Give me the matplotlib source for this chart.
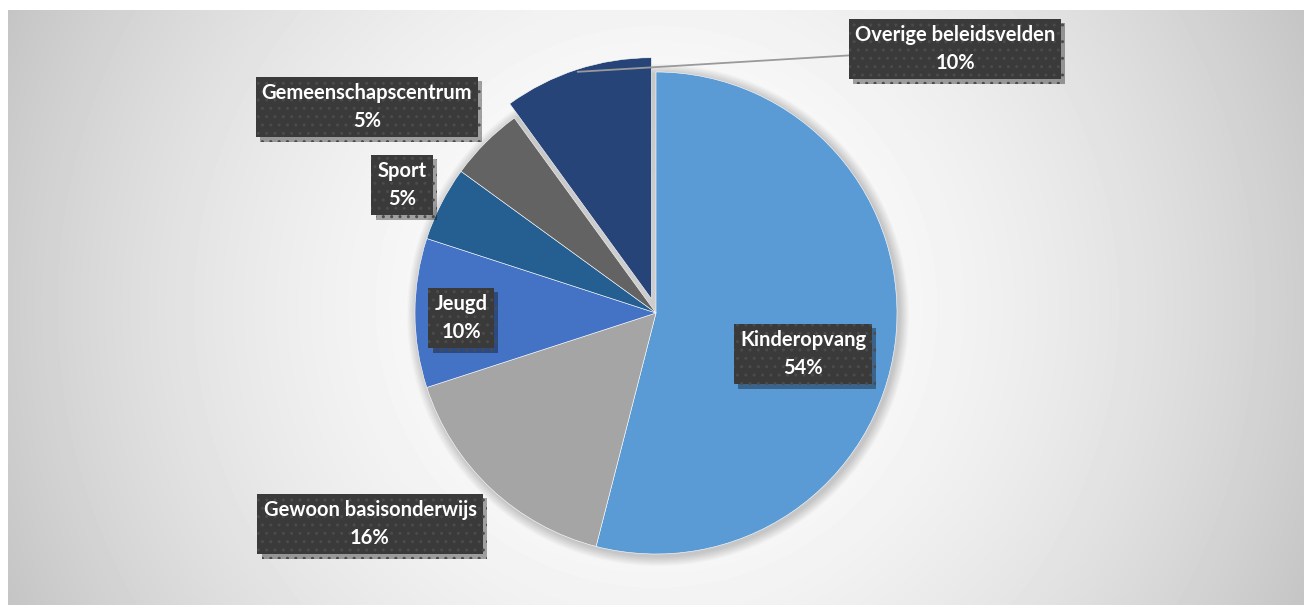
import numpy as np
import matplotlib
matplotlib.use("Agg")
import matplotlib.pyplot as plt
import matplotlib.patheffects as pe
from matplotlib.patches import Circle

# gegevens
categorieen = ["Kinderopvang", "Gewoon basisonderwijs", "Jeugd", "Sport",
               "Gemeenschapscentrum", "Overige beleidsvelden"]
aandeel = [54, 16, 10, 5, 5, 10]
kleuren = ["#5B9BD5", "#A5A5A5", "#4472C4", "#255E91", "#636363", "#264478"]

# opmaak
uitgelicht = [0, 0, 0, 0, 0, 15]
# middelpunt van de labels in pixels (y van boven)
label_pos = [(803, 354), (370, 524), (461, 318), (402, 185), (367, 107), (955, 49)]

W, H = 1304, 609
plt.rcParams['hatch.color'] = '#4b4b4b'
plt.rcParams['hatch.linewidth'] = 1.0

fig = plt.figure(figsize=(W / 100, H / 100), dpi=100)
ax = fig.add_axes([0, 0, 1, 1])

# achtergrond met radiaal verloop
x0, x1, y0, y1 = 8, W, 4, H - 10
xs = np.arange(x0, x1)
ys = np.arange(y0, y1)
gx, gy = np.meshgrid(xs, ys)
cx, cy = (x0 + x1) / 2, (y0 + y1) / 2
d = np.hypot(gx - cx, gy - cy) / np.hypot(x1 - cx, y1 - cy)
grijs = 1 - 0.23 * d ** 1.8
ax.imshow(grijs, extent=(x0, x1, y0, y1), origin='lower', cmap='gray',
          vmin=0, vmax=1, zorder=0, aspect='auto')

middel = (656, 296)
straal = 241

# zachte schaduw rond de taart
for i in range(10):
    ax.add_patch(Circle((middel[0] + 2, middel[1] - 2), straal + 10 - i,
                        fc='black', ec='none', alpha=0.018, zorder=1))

wedges, _ = ax.pie(aandeel, colors=kleuren, startangle=90, counterclock=False,
                   radius=straal, center=middel, explode=uitgelicht,
                   wedgeprops=dict(edgecolor='white', linewidth=0.4))
for w in wedges:
    w.set_zorder(2)

for w, cat, p, (lx, ly) in zip(wedges, categorieen, aandeel, label_pos):
    tekst = f"{cat}\n{p}%"
    kwargs = dict(ha='center', va='center', multialignment='center',
                  fontsize=14.5, fontweight='bold', color='white', family='Lato',
                  linespacing=1.55, zorder=5,
                  bbox=dict(boxstyle='square,pad=0.3', fc='#3a3a3a',
                            ec='#4b4b4b', lw=0, hatch='..'))
    if cat == "Overige beleidsvelden":
        hoek = np.deg2rad((w.theta1 + w.theta2) / 2)
        px = w.center[0] + 0.99 * straal * np.cos(hoek)
        py = w.center[1] + 0.99 * straal * np.sin(hoek)
        t = ax.annotate(tekst, xy=(px, py), xytext=(lx, H - ly),
                        arrowprops=dict(arrowstyle='-', color='#9a9a9a', lw=1.3,
                                        shrinkA=0, shrinkB=0), **kwargs)
    else:
        t = ax.text(lx, H - ly, tekst, **kwargs)
    t.get_bbox_patch().set_path_effects([
        pe.SimplePatchShadow(offset=(3, -3), shadow_rgbFace='black', alpha=0.35),
        pe.Normal()])

ax.set_xlim(0, W)
ax.set_ylim(0, H)
ax.set_aspect('auto')
ax.axis('off')

fig.savefig("out.png", dpi=100, facecolor='white')
